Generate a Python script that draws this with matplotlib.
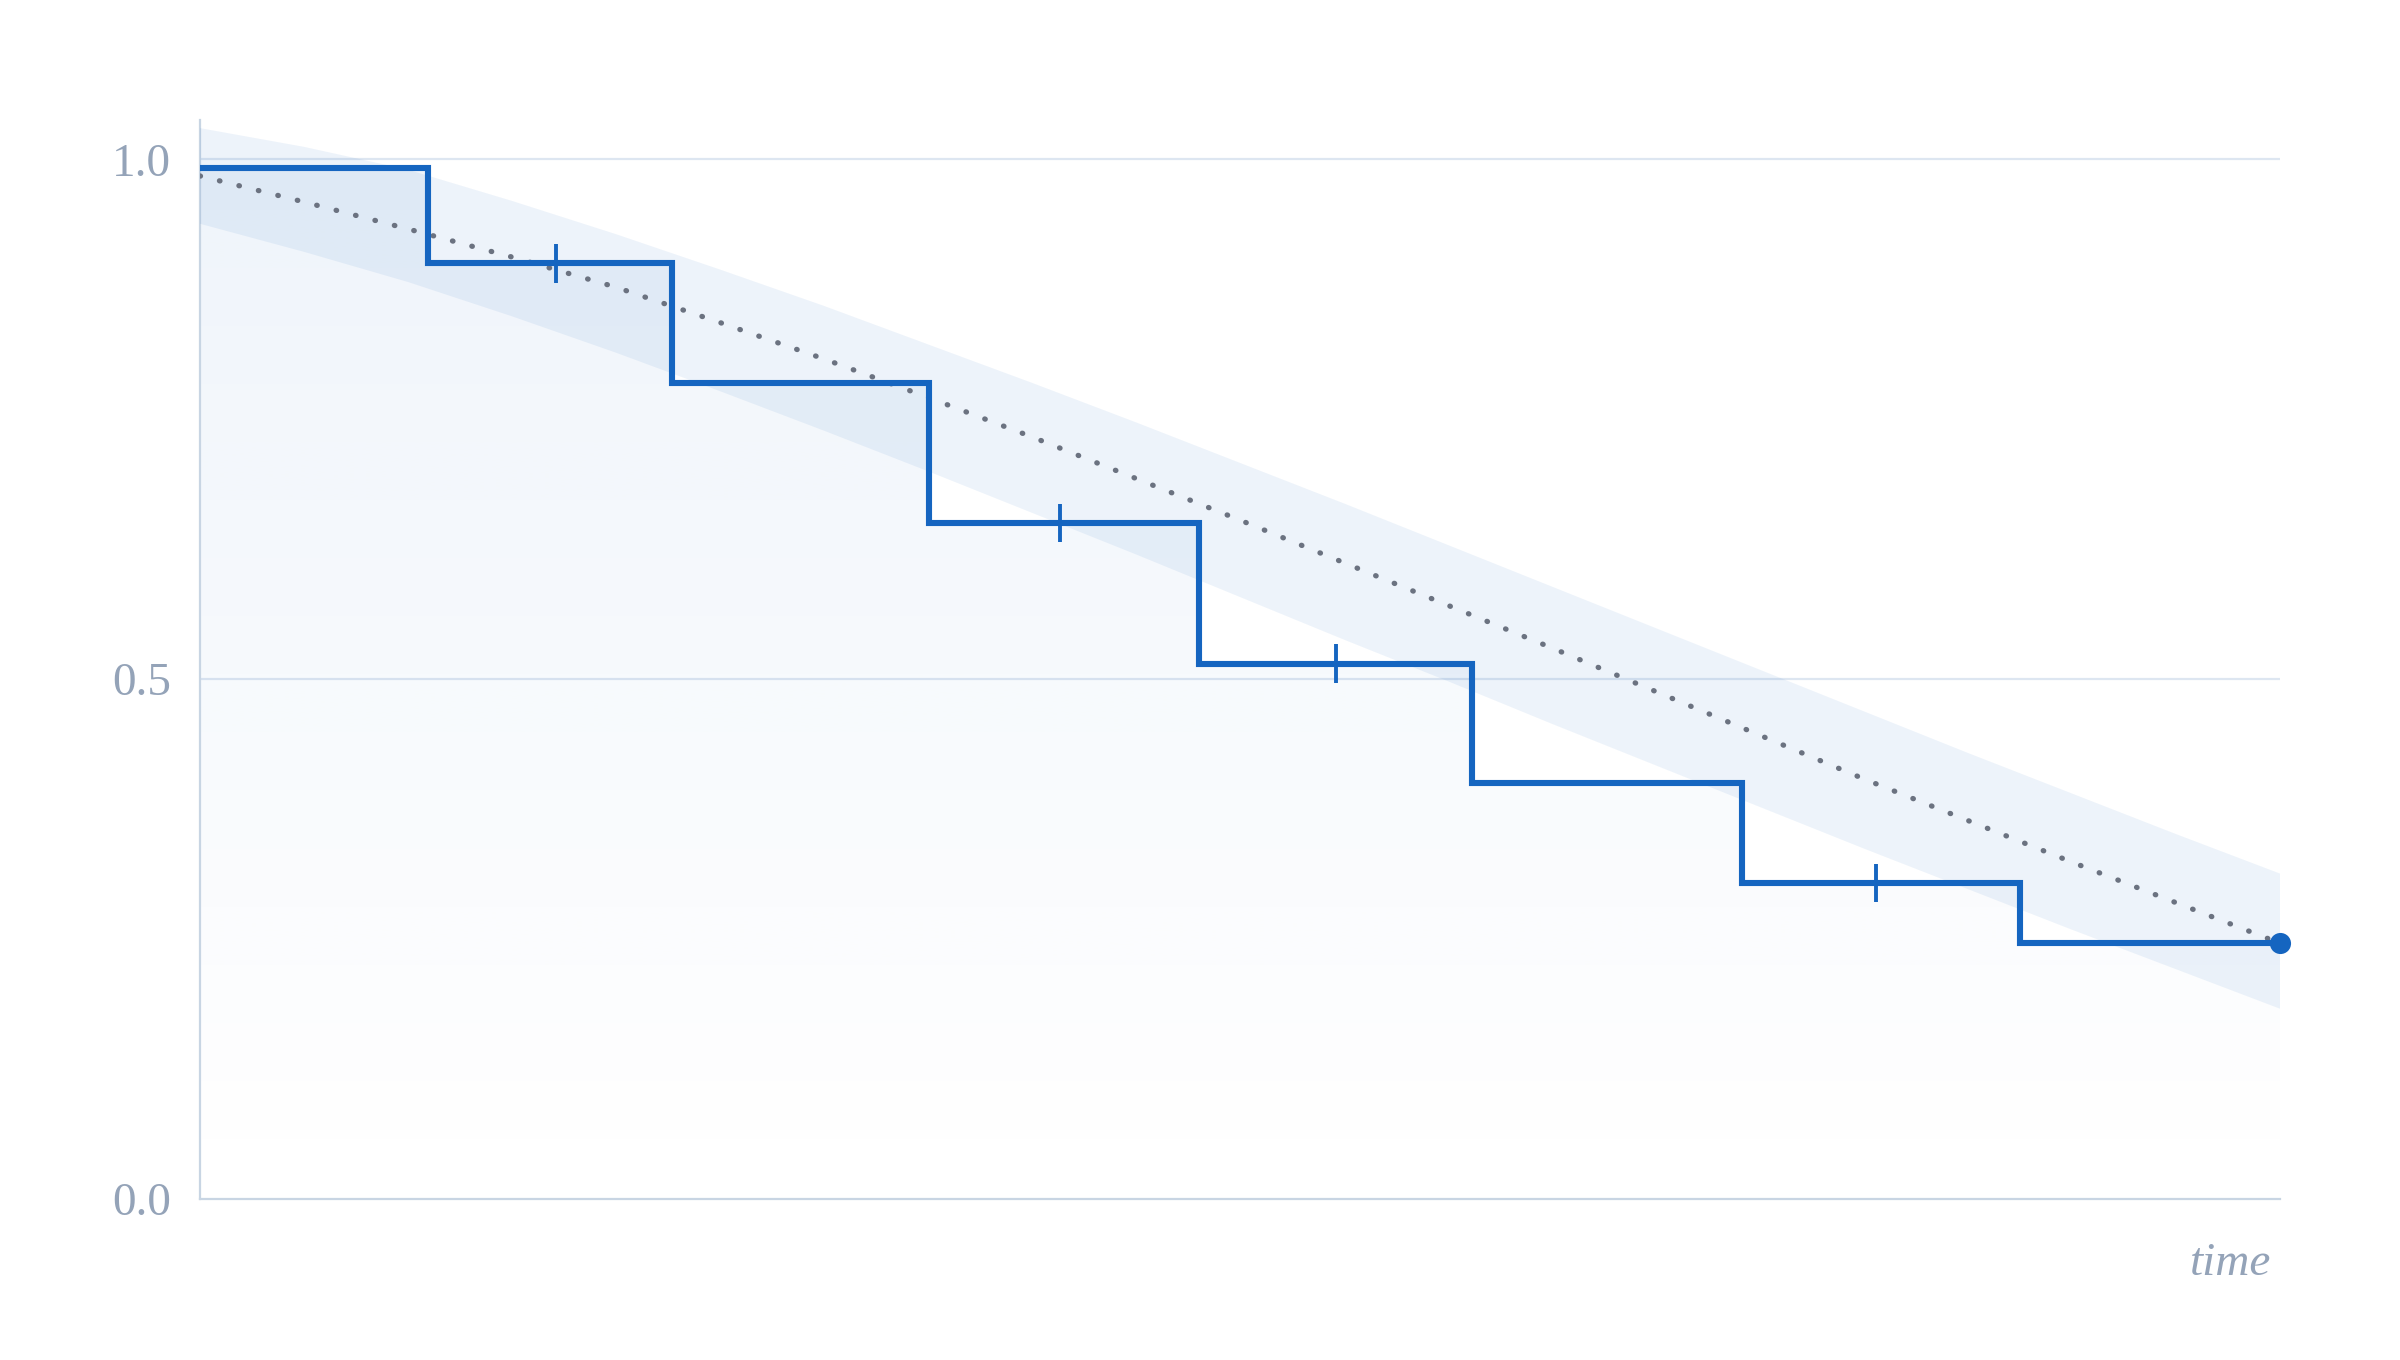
import numpy as np
import matplotlib
matplotlib.use("Agg")
import matplotlib.pyplot as plt
from matplotlib.colors import to_rgb

# ---------------- data ----------------
event_times = [0.0, 0.1094, 0.2268, 0.3503, 0.4803, 0.6115, 0.7415, 0.875]
survival = [0.992, 0.900, 0.785, 0.650, 0.515, 0.400, 0.304, 0.246]
end_time = 1.0

censor_times = [0.171, 0.4136, 0.546, 0.806]
censor_values = [0.900, 0.650, 0.515, 0.304]

band_t = [0.0, 0.05, 0.1, 0.15, 0.2, 0.25, 0.3, 0.35, 0.4, 0.45, 0.5,
          0.55, 0.6, 0.65, 0.7, 0.75, 0.8, 0.85, 0.9, 0.95, 1.0]
band_upper = [1.030, 1.012, 0.990, 0.960, 0.928, 0.894, 0.859, 0.822, 0.785,
              0.747, 0.708, 0.669, 0.629, 0.589, 0.549, 0.509, 0.469, 0.429,
              0.390, 0.351, 0.313]
band_lower = [0.938, 0.911, 0.882, 0.849, 0.814, 0.777, 0.739, 0.700, 0.660,
              0.620, 0.579, 0.538, 0.498, 0.457, 0.417, 0.377, 0.337, 0.298,
              0.259, 0.221, 0.183]

fit_t = [0.0, 0.05, 0.1, 0.15, 0.2, 0.25, 0.3, 0.35, 0.4, 0.45, 0.5,
         0.55, 0.6, 0.65, 0.7, 0.75, 0.8, 0.85, 0.9, 0.95, 1.0]
fit_s = [0.984, 0.959, 0.933, 0.906, 0.877, 0.843, 0.808, 0.771, 0.733,
         0.693, 0.653, 0.612, 0.571, 0.530, 0.488, 0.446, 0.404, 0.364,
         0.324, 0.285, 0.246]

y_ticks = [0.0, 0.5, 1.0]
y_tick_labels = ["0.0", "0.5", "1.0"]
x_label = "time"

# ---------------- style ----------------
BLUE = "#1565c0"
LABEL_C = "#94a3b8"
SPINE_C = "#c8d5e3"
GRID_C = "#dde6f1"
DOT_C = "#6b7280"
SERIF = ["Liberation Serif", "DejaVu Serif"]

fig = plt.figure(figsize=(12, 6.8), dpi=200)
ax = fig.add_axes([0.08333, 0.11838, 0.86667, 0.79353])
YMAX = 1.038

# gridlines
for yv in y_ticks[1:]:
    ax.axhline(yv, color=GRID_C, lw=0.8, zorder=1)

# step arrays
sx = list(event_times) + [end_time]
sy = list(survival) + [survival[-1]]

# gradient fill under the step curve
poly = ax.fill_between(sx, sy, 0, step="post", facecolor="none", edgecolor="none", zorder=2)
rgb = to_rgb(BLUE)
n = 256
grad = np.zeros((n, 2, 4))
grad[..., 0] = rgb[0]
grad[..., 1] = rgb[1]
grad[..., 2] = rgb[2]
alpha_col = np.linspace(0, 0.07 * YMAX, n)
grad[..., 3] = alpha_col[:, None]
im = ax.imshow(grad, extent=[0, 1, 0, YMAX], origin="lower", aspect="auto",
               interpolation="bilinear", zorder=2)
im.set_clip_path(poly.get_paths()[0], transform=ax.transData)

# confidence band
bx = np.concatenate([band_t, band_t[::-1]])
by = np.concatenate([band_upper, band_lower[::-1]])
ax.fill(bx, by, color=BLUE, alpha=0.075, lw=0, zorder=3)

# fitted dotted curve
ln, = ax.plot(fit_t, fit_s, color=DOT_C, lw=1.9, zorder=4,
              dash_capstyle="round", solid_capstyle="round")
ln.set_dashes([0.1, 3.7])

# KM step line
ax.step(sx, sy, where="post", color=BLUE, lw=2.2, zorder=5,
        solid_joinstyle="miter", solid_capstyle="round")

# censor ticks
ax.vlines(censor_times, np.array(censor_values) - 0.0185,
          np.array(censor_values) + 0.0185, color=BLUE, lw=1.4, zorder=6)

# end dot
ax.plot([end_time], [survival[-1]], "o", color=BLUE, ms=7.6, mec="none",
        zorder=7, clip_on=False)

ax.set_xlim(0, 1)
ax.set_ylim(0, YMAX)

for s in ["top", "right"]:
    ax.spines[s].set_visible(False)
for s in ["left", "bottom"]:
    ax.spines[s].set_color(SPINE_C)
    ax.spines[s].set_linewidth(0.8)

ax.set_xticks([])
ax.set_yticks(y_ticks)
ax.set_yticklabels(y_tick_labels, family=SERIF, fontsize=17, color=LABEL_C)
ax.tick_params(axis="y", length=0, pad=10.5)
ax.set_facecolor("white")

fig.text(2271 / 2400, 1 - 1275 / 1360, x_label, ha="right", va="baseline",
         family=SERIF, style="italic", fontsize=17, color=LABEL_C)

fig.savefig("out.png", dpi=200, facecolor="white")
